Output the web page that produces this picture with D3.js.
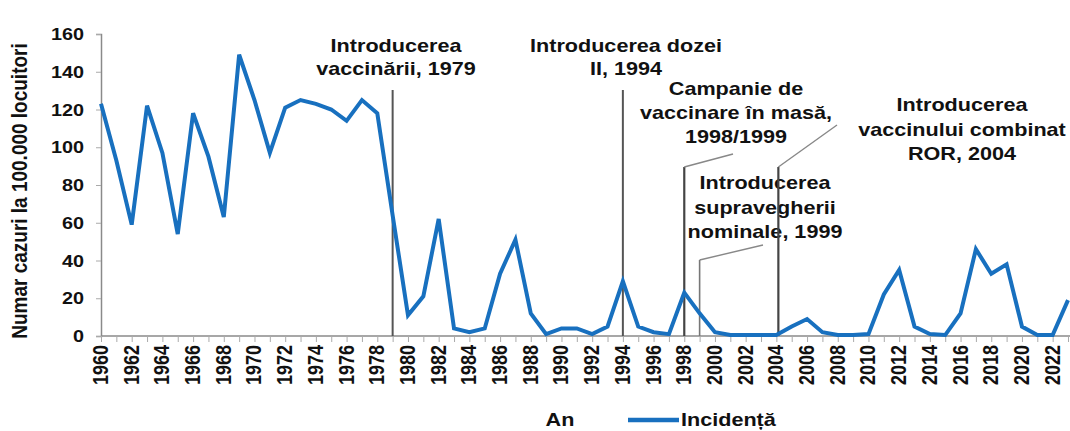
<!DOCTYPE html>
<html>
<head>
<meta charset="utf-8">
<script src="https://cdn.jsdelivr.net/npm/d3@7"></script>
<style>
  body { margin: 0; background: #fff; }
  svg { display: block; font-family: "Liberation Sans", Arial, sans-serif; font-weight: bold; }
</style>
</head>
<body>
<svg id="chart"></svg>
<script>
// data
const firstYear = 1960;
const lastYear = 2023;
const incidence = [
  123, 93, 59, 122, 97, 54, 118, 95, 63, 149,
  125, 97, 121, 125, 123, 120, 114, 125, 118, 64,
  11, 21, 62, 4, 2, 4, 33, 51, 12, 1,
  4, 4, 1, 5, 29, 5, 2, 1, 23, 12,
  2, 0.5, 0.5, 0.5, 0.5, 5, 9, 2, 0.5, 0.5,
  1, 22, 35, 5, 1, 0.5, 12, 46, 33, 38,
  5, 0.5, 0.5, 19
];
const yTicks = [0, 20, 40, 60, 80, 100, 120, 140, 160];
const yTitle = "Numar cazuri la 100.000 locuitori";
const xTitle = "An";
const seriesName = "Incidență";

// annotations: year of the vertical line, text lines
const notes = [
  { year: 1979, lines: ["Introducerea", "vaccinării, 1979"] },
  { year: 1994, lines: ["Introducerea dozei", "II, 1994"] },
  { year: 1998, lines: ["Campanie de", "vaccinare în masă,", "1998/1999"] },
  { year: 2004, lines: ["Introducerea", "vaccinului combinat", "ROR, 2004"] },
  { year: 1999, lines: ["Introducerea", "supravegherii", "nominale, 1999"] }
];

const W = 1070, H = 431;
const SX = 1.2; // the picture is horizontally stretched
const blue = "#1870bf";

const svg = d3.select("#chart").attr("width", W).attr("height", H);
svg.append("rect").attr("width", W).attr("height", H).attr("fill", "#fff");

const years = d3.range(firstYear, lastYear + 1);
const data = years.map((y, i) => ({ year: y, v: incidence[i] }));

const x = d3.scaleLinear().domain([firstYear, lastYear]).range([101, 1068]);
const y = d3.scaleLinear().domain([0, 160]).range([336, 34]);

// stretched text helper
function stext(g, px, py, str, size, anchor) {
  return g.append("g")
    .attr("transform", `translate(${px},${py})`)
    .append("text")
    .attr("transform", `scale(${SX},1)`)
    .attr("text-anchor", anchor)
    .attr("font-size", size)
    .attr("fill", "#111")
    .text(str);
}

// y axis
const yAxis = svg.append("g")
  .attr("transform", "translate(101,0)")
  .call(d3.axisLeft(y).tickValues(yTicks).tickSize(5).tickFormat(() => ""));
yAxis.select(".domain").attr("stroke", "#8a8a8a").attr("stroke-width", 1.5);
yAxis.selectAll(".tick line").attr("stroke", "#aaa");
yTicks.forEach(t => {
  stext(svg, 84, y(t) + 6, String(t), 16.5, "end");
});

// x axis, labels every second year, read bottom to top
const xAxis = svg.append("g")
  .attr("transform", "translate(0,336)")
  .call(d3.axisBottom(x).tickValues(years).tickSize(6).tickFormat(() => ""));
xAxis.select(".domain").attr("stroke", "#8a8a8a").attr("stroke-width", 1.5)
  .attr("d", `M101,0H${W}`);
xAxis.selectAll(".tick line").attr("stroke", "#aaa");
const xLab = svg.append("g");
years.filter(d => d % 2 === 0).forEach(d => {
  xLab.append("g")
    .attr("transform", `translate(${x(d) + 7},345)`)
    .append("g")
    .attr("transform", `scale(${SX},1)`)
    .append("text")
    .attr("transform", "rotate(-90)")
    .attr("text-anchor", "end")
    .attr("font-size", 18)
    .attr("fill", "#111")
    .text(String(d));
});

// axis titles
svg.append("g")
  .attr("transform", "translate(27,191)")
  .append("g")
  .attr("transform", `scale(${SX},1)`)
  .append("text")
  .attr("transform", "rotate(-90)")
  .attr("text-anchor", "middle")
  .attr("font-size", 19)
  .attr("fill", "#111")
  .text(yTitle);
stext(svg, 560, 426, xTitle, 18, "middle");

// legend
svg.append("line")
  .attr("x1", 628).attr("x2", 679).attr("y1", 420).attr("y2", 420)
  .attr("stroke", blue).attr("stroke-width", 4.5);
stext(svg, 681, 426, seriesName, 18, "start");

// annotation texts
const noteText = {
  1979: { cx: 396, base: 52, gap: 23 },
  1994: { cx: 626, base: 52, gap: 23 },
  1998: { cx: 736, base: 95, gap: 24 },
  2004: { cx: 962, base: 111, gap: 24.5 },
  1999: { cx: 765, base: 189, gap: 24.5 }
};
const ann = svg.append("g");
notes.forEach(n => {
  const p = noteText[n.year];
  n.lines.forEach((l, i) => stext(ann, p.cx, p.base + i * p.gap, l, 18, "middle"));
});

// annotation lines: top of vertical line, and optional leader end
const noteLines = {
  1979: { top: 90, w: 2, c: "#555" },
  1994: { top: 90, w: 2, c: "#555" },
  1998: { top: 167, w: 2.2, c: "#444", lead: [733, 154] },
  2004: { top: 167, w: 2.2, c: "#444", lead: [837, 125] },
  1999: { top: 260, w: 1.6, c: "#777", lead: [763, 245] }
};
notes.forEach(n => {
  const s = noteLines[n.year];
  const lx = x(n.year) + (n.year === 2004 ? 2 : 0);
  ann.append("line")
    .attr("x1", lx).attr("x2", lx).attr("y1", s.top).attr("y2", y(0))
    .attr("stroke", s.c).attr("stroke-width", s.w);
  if (s.lead) {
    ann.append("line")
      .attr("x1", lx).attr("y1", s.top).attr("x2", s.lead[0]).attr("y2", s.lead[1])
      .attr("stroke", "#888").attr("stroke-width", 1.4);
  }
});

// series line
svg.append("path")
  .datum(data)
  .attr("fill", "none")
  .attr("stroke", blue)
  .attr("stroke-width", 4)
  .attr("stroke-linejoin", "miter")
  .attr("d", d3.line().x(d => x(d.year)).y(d => y(d.v)));
</script>
</body>
</html>
